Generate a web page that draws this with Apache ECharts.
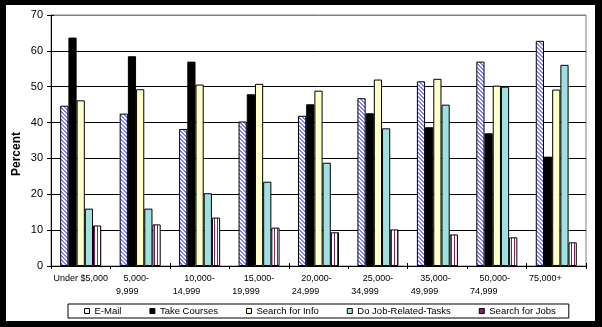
<!DOCTYPE html>
<html>
<head>
<meta charset="utf-8">
<script src="https://cdn.jsdelivr.net/npm/echarts@6/dist/echarts.min.js"></script>
<style>
  html, body { margin: 0; padding: 0; background: #000; }
  #frame { position: absolute; left: 0; top: 0; width: 602px; height: 327px; background: #000; }
  #chart { position: absolute; left: 6px; top: 5px; width: 589px; height: 316px; background: #fff; }
</style>
</head>
<body>
<div id="frame"><div id="chart"></div></div>
<script>
// Income brackets (tick labels on the category axis)
const incomeBrackets = [
  'Under $5,000', '5,000-\n9,999', '10,000-\n14,999', '15,000-\n19,999',
  '20,000-\n24,999', '25,000-\n34,999', '35,000-\n49,999', '50,000-\n74,999', '75,000+'
];
// Share of users (percent) doing each activity, per income bracket
const eMail          = [44.7, 42.5, 38.2, 40.3, 41.9, 46.8, 51.5, 57.0, 62.8];
const takeCourses    = [63.7, 58.5, 57.0, 47.9, 45.1, 42.6, 38.7, 37.0, 30.5];
const searchInfo     = [46.2, 49.3, 50.6, 50.8, 48.9, 52.0, 52.2, 50.3, 49.2];
const jobTasks       = [16.0, 16.0, 20.3, 23.5, 28.8, 38.4, 45.0, 50.0, 56.1];
const searchJobs     = [11.3, 11.6, 13.5, 10.7,  9.4, 10.2,  8.8,  8.0,  6.6];
const seriesNames = ['E-Mail', 'Take Courses', 'Search for Info', 'Do Job-Related-Tasks', 'Search for Jobs'];
const percentTicks = { min: 0, max: 70, step: 10 };

// Fill patterns
function diagonalPattern() {
  const c = document.createElement('canvas');
  c.width = 4; c.height = 4;
  const ctx = c.getContext('2d');
  ctx.fillStyle = '#ffffff';
  ctx.fillRect(0, 0, 4, 4);
  ctx.fillStyle = '#8080ff';
  for (let y = 0; y < 4; y++) {
    for (let x = 0; x < 4; x++) {
      const d = ((x - y) % 4 + 4) % 4;
      if (d === 0 || d === 1) ctx.fillRect(x, y, 1, 1);
    }
  }
  return { image: c, repeat: 'repeat' };
}
function verticalPattern() {
  const c = document.createElement('canvas');
  c.width = 3; c.height = 2;
  const ctx = c.getContext('2d');
  ctx.fillStyle = '#ffffff';
  ctx.fillRect(0, 0, 3, 2);
  ctx.fillStyle = '#802060';
  ctx.fillRect(1, 0, 1, 2);
  return { image: c, repeat: 'repeat' };
}

const fills = [diagonalPattern(), '#000000', '#ffffcc', '#a0e0e0', verticalPattern()];
const legendFills = ['#ffffff', '#000000', '#ffffcc', '#a0e0e0', '#802060'];
const values = [eMail, takeCourses, searchInfo, jobTasks, searchJobs];

const font = 'Arial, "Liberation Sans", sans-serif';
// horizontal nudge (right padding) for each label line
const firstLinePad = [0, 8, 0, 0, 4, 0, 4, 4, 22];
const secondLinePad = 26;

const chart = echarts.init(document.getElementById('chart'), null, { renderer: 'canvas' });

const splitColors = [];
for (let v = percentTicks.min; v <= percentTicks.max; v += percentTicks.step) {
  splitColors.push(v === percentTicks.max ? '#808080' : '#000000');
}

chart.setOption({
  animation: false,
  backgroundColor: '#ffffff',
  grid: {
    left: 45, top: 10, right: 9, bottom: 55,
    show: true, borderColor: '#808080', borderWidth: 1, backgroundColor: '#ffffff'
  },
  legend: {
    left: 62, top: 299,
    padding: [2, 13, 2, 16],
    borderColor: '#000', borderWidth: 1,
    itemWidth: 5, itemHeight: 5, itemGap: 28,
    icon: 'rect',
    textStyle: { fontFamily: font, fontSize: 9.5, color: '#000' },
    data: seriesNames.map((n, i) => ({
      name: n,
      itemStyle: { color: legendFills[i], borderColor: '#000', borderWidth: 1 }
    }))
  },
  xAxis: [{
    type: 'category',
    data: incomeBrackets,
    axisLine: { lineStyle: { color: '#000', width: 1 } },
    axisTick: { show: true, length: 3, lineStyle: { color: '#000' } },
    axisLabel: {
      interval: 0, margin: 6, color: '#000', fontFamily: font, fontSize: 9,
      formatter: function (val, idx) {
        const lines = val.split('\n');
        let s = '{a' + idx + '|' + lines[0] + '}';
        if (lines.length > 1) s += '\n{b|' + lines[1] + '}';
        return s;
      },
      rich: Object.assign({
        b: { fontFamily: font, fontSize: 9, lineHeight: 13, color: '#000', padding: [0, secondLinePad, 0, 0] }
      }, Object.fromEntries(firstLinePad.map((p, i) => ['a' + i,
        { fontFamily: font, fontSize: 9, lineHeight: 13, color: '#000', padding: [0, p, 0, 0] }])))
    },
    splitLine: { show: false }
  }, {
    type: 'category',
    data: incomeBrackets,
    position: 'bottom',
    axisLine: { show: false },
    axisTick: { show: true, inside: true, length: 3, lineStyle: { color: '#000' } },
    axisLabel: { show: false },
    splitLine: { show: false }
  }],
  yAxis: [{
    type: 'value',
    min: percentTicks.min, max: percentTicks.max, interval: percentTicks.step,
    axisLine: { show: true, lineStyle: { color: '#000', width: 1 } },
    axisTick: { show: true, length: 4, lineStyle: { color: '#000' } },
    axisLabel: { margin: 8, color: '#000', fontFamily: font, fontSize: 11 },
    splitLine: { show: true, lineStyle: { color: splitColors, width: 1 } }
  }, {
    type: 'value',
    position: 'left',
    min: percentTicks.min, max: percentTicks.max, interval: percentTicks.step,
    axisLine: { show: false },
    axisTick: { show: true, inside: true, length: 3, lineStyle: { color: '#000' } },
    axisLabel: { show: false },
    splitLine: { show: false }
  }],
  graphic: [{
    type: 'text',
    x: 11, y: 149,
    rotation: Math.PI / 2,
    style: {
      text: 'Percent',
      font: 'bold 12px ' + font,
      fill: '#000',
      align: 'center',
      verticalAlign: 'middle'
    }
  }],
  series: seriesNames.map((n, i) => ({
    name: n,
    type: 'bar',
    xAxisIndex: 0,
    yAxisIndex: 0,
    data: values[i],
    barGap: '0%',
    barCategoryGap: '31%',
    itemStyle: { color: fills[i], borderColor: '#000', borderWidth: 1 },
    emphasis: { disabled: true }
  }))
});
</script>
</body>
</html>
